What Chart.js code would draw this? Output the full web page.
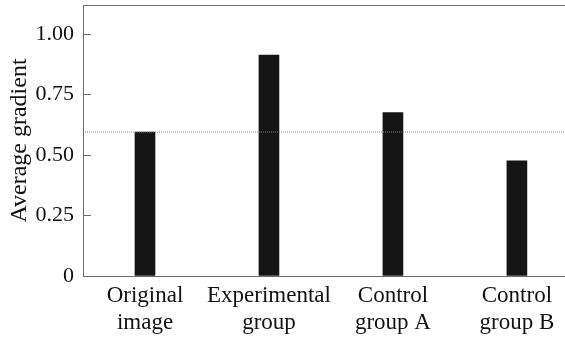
<!DOCTYPE html>
<html>
<head>
<meta charset="utf-8">
<script src="https://cdn.jsdelivr.net/npm/chart.js@4.4.0/dist/chart.umd.min.js"></script>
<style>
  html, body { margin: 0; padding: 0; background: #fff; }
  #wrap { width: 565px; height: 338px; }
  /* warms up the serif face so the canvas can use it */
  #fontPrime { position: absolute; left: -9999px; top: 0; font: 22px 'Liberation Serif', serif; }
</style>
</head>
<body>
<span id="fontPrime">Average gradient 0.25</span>
<div id="wrap"><canvas id="gradChart"></canvas></div>
<script>
// Data
const groups = [['Original', 'image'], ['Experimental', 'group'], ['Control', 'group A'], ['Control', 'group B']];
const avgGradient = [0.595, 0.913, 0.675, 0.476];
const yTickValues = [0, 0.25, 0.5, 0.75, 1.0];
const yTickLabels = ['0', '0.25', '0.50', '0.75', '1.00'];
const baseline = avgGradient[0]; // dotted reference line = original image

const xMin = -0.5, xMax = 3.384;
const serifFamily = "'Liberation Serif', 'Times New Roman', serif";
const axisGray = '#6b6b6b';

Chart.defaults.font.family = serifFamily;

const ctx = document.getElementById('gradChart').getContext('2d');

const gradChart = new Chart(ctx, {
    type: 'bar',
    data: {
        datasets: [{
            label: 'Average gradient',
            data: avgGradient.map((v, i) => ({ x: i, y: v })),
            backgroundColor: '#151515',
            barThickness: 20,
            order: 2
        }, {
            type: 'line',
            label: 'baseline',
            data: [{ x: xMin, y: baseline }, { x: xMax, y: baseline }],
            borderColor: '#8a8a8a',
            borderWidth: 1,
            borderDash: [1, 1],
            pointRadius: 0,
            order: 1
        }]
    },
    options: {
        responsive: true,
        maintainAspectRatio: false,
        animation: false,
        layout: { padding: { top: 5 } },
        scales: {
            x: {
                type: 'linear',
                offset: false,
                min: xMin,
                max: xMax,
                afterBuildTicks: s => { s.ticks = groups.map((g, i) => ({ value: i })); },
                afterFit: s => { s.height = 62; s.paddingLeft = 0; s.paddingRight = 0; },
                grid: { drawOnChartArea: false, drawTicks: false },
                border: { color: axisGray, width: 1 },
                ticks: {
                    color: '#111',
                    padding: 6,
                    maxRotation: 0,
                    autoSkip: false,
                    font: { family: serifFamily, size: 23, lineHeight: 1.2 },
                    callback: v => groups[v]
                }
            },
            xTop: {
                type: 'linear',
                position: 'top',
                offset: false,
                min: xMin,
                max: xMax,
                afterFit: s => { s.height = 0; s.paddingLeft = 0; s.paddingRight = 0; },
                grid: { drawOnChartArea: false, drawTicks: false },
                border: { color: axisGray, width: 1 },
                ticks: { display: false }
            },
            y: {
                min: 0,
                max: 1.12,
                afterBuildTicks: s => { s.ticks = yTickValues.map(v => ({ value: v })); },
                afterFit: s => { s.width = 83; s.paddingTop = 0; s.paddingBottom = 0; },
                grid: { drawOnChartArea: false, tickLength: -8, color: axisGray },
                border: { color: axisGray, width: 1 },
                ticks: {
                    color: '#111',
                    padding: 17,
                    font: { family: serifFamily, size: 22 },
                    callback: v => yTickLabels[yTickValues.indexOf(v)]
                },
                title: {
                    display: true,
                    text: 'Average gradient',
                    color: '#111',
                    padding: { top: 5, bottom: 0 },
                    font: { family: serifFamily, size: 24 }
                }
            }
        },
        plugins: {
            legend: { display: false },
            tooltip: { enabled: false }
        }
    }
});

// redraw once the serif face is surely available
if (document.fonts) {
    document.fonts.load("22px 'Liberation Serif'").then(() => gradChart.update());
}
</script>
</body>
</html>
